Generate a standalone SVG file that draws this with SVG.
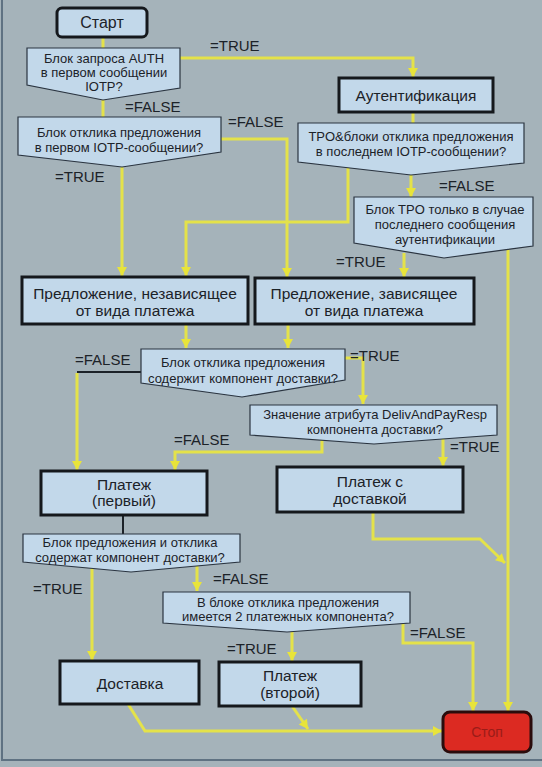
<svg xmlns="http://www.w3.org/2000/svg" width="542" height="767" viewBox="0 0 542 767">
<style>
text{font-family:"Liberation Sans",Arial,sans-serif;fill:#1c2228}
.box{fill:#c2d8ea;stroke:#15181c;stroke-width:3}
.dec{fill:#c2d8ea;stroke:#2a3440;stroke-width:1.2}
.bt{font-size:15.5px;text-anchor:middle}
.dt{font-size:13px;text-anchor:middle}
.lb{font-size:15px}
.c{fill:none;stroke:#e4e24a;stroke-width:3}
.ca{fill:none;stroke:#e4e24a;stroke-width:3;marker-end:url(#ah)}
.cd{fill:none;stroke:#1c2228;stroke-width:2}
</style>
<defs>
<marker id="ah" markerUnits="userSpaceOnUse" markerWidth="12" markerHeight="12" viewBox="0 0 12 12" refX="10" refY="6" orient="auto">
<path d="M1,1 L10,6 L1,11 Z" fill="#e8e43a"/>
</marker>
</defs>
<rect x="0" y="0" width="542" height="767" fill="#a5b3ba"/>
<line x1="2" y1="0" x2="2" y2="761" stroke="#5f7282" stroke-width="2"/>
<line x1="2" y1="760" x2="542" y2="760" stroke="#5f7282" stroke-width="2"/>

<g id="connectors">
<path class="c" d="M103,37 V48"/>
<path class="ca" d="M180,58 H413 V77"/>
<path class="c" d="M103,100 V117"/>
<path class="ca" d="M122,167 V276"/>
<path class="ca" d="M221,139 H287 V277"/>
<path class="c" d="M413,112 V123"/>
<path class="ca" d="M348,168 V222 H186 V276"/>
<path class="ca" d="M411,175 V197"/>
<path class="ca" d="M404,253 V277"/>
<path class="ca" d="M508,247 V711"/>
<path class="ca" d="M186,324 V348"/>
<path class="ca" d="M288,324 V348"/>
<path class="cd" d="M141,372 H77"/>
<path class="ca" d="M77,373 V470"/>
<path class="ca" d="M345,358 H363 V404"/>
<path class="ca" d="M322,440 V452 H175 V470"/>
<path class="ca" d="M443,437 V466"/>
<path class="cd" d="M123,515 V534"/>
<path class="ca" d="M373,512 V539 H480 L505,563"/>
<path class="ca" d="M92,568 V660"/>
<path class="ca" d="M197,564 V591"/>
<path class="ca" d="M292,632 V661"/>
<path class="ca" d="M403,623 V643 H473 V711"/>
<path class="ca" d="M128,704 L145,731 H442"/>
<path class="ca" d="M292,706 L308,729"/>
</g>

<g id="start">
<rect x="57" y="8" width="90" height="29" rx="5" class="box"/>
<text x="102" y="28" class="bt" style="font-size:16px">Старт</text>
</g>
<g id="d1">
<polygon points="27,48 180,48 180,88 103,100 27,85" class="dec"/>
<text x="104" y="63" class="dt">Блок запроса AUTH</text>
<text x="104" y="77" class="dt">в первом сообщении</text>
<text x="104" y="91" class="dt">IOTP?</text>
</g>
<g id="d2">
<polygon points="18,117 221,117 221,152 122,167 18,155" class="dec"/>
<text x="119" y="137" class="dt">Блок отклика предложения</text>
<text x="119" y="152" class="dt">в первом IOTP-сообщении?</text>
</g>
<g id="auth">
<rect x="339" y="78" width="154" height="34" class="box"/>
<text x="416" y="101" class="bt">Аутентификация</text>
</g>
<g id="d3">
<polygon points="298,123 524,123 524,163 411,175 298,162" class="dec"/>
<text x="411" y="141" class="dt">TPO&amp;блоки отклика предложения</text>
<text x="411" y="156" class="dt">в последнем IOTP-сообщении?</text>
</g>
<g id="d4">
<polygon points="354,197 533,197 533,246 444,258 354,243" class="dec"/>
<text x="445" y="214" class="dt">Блок TPO только в случае</text>
<text x="445" y="229" class="dt">последнего сообщения</text>
<text x="445" y="244" class="dt">аутентификации</text>
</g>
<g id="offer-indep">
<rect x="22" y="277" width="226" height="47" class="box"/>
<text x="135" y="299" class="bt">Предложение, независящее</text>
<text x="135" y="316" class="bt">от вида платежа</text>
</g>
<g id="offer-dep">
<rect x="255" y="278" width="219" height="46" class="box"/>
<text x="364" y="299" class="bt">Предложение, зависящее</text>
<text x="364" y="316" class="bt">от вида платежа</text>
</g>
<g id="d5">
<polygon points="141,349 345,349 345,380 242,397 141,383" class="dec"/>
<text x="243" y="367" class="dt">Блок отклика предложения</text>
<text x="243" y="383" class="dt">содержит компонент доставки?</text>
</g>
<g id="d6">
<polygon points="250,405 497,405 497,435 374,444 250,435" class="dec"/>
<text x="375" y="419" class="dt">Значение атрибута DelivAndPayResp</text>
<text x="375" y="434" class="dt">компонента доставки?</text>
</g>
<g id="pay1">
<rect x="41" y="471" width="166" height="44" class="box"/>
<text x="124" y="490" class="bt">Платеж</text>
<text x="124" y="506" class="bt">(первый)</text>
</g>
<g id="pay-deliv">
<rect x="277" y="467" width="186" height="45" class="box"/>
<text x="370" y="487" class="bt">Платеж с</text>
<text x="370" y="504" class="bt">доставкой</text>
</g>
<g id="d7">
<polygon points="23,534 240,534 240,562 131,572 23,562" class="dec"/>
<text x="130" y="547" class="dt">Блок предложения и отклика</text>
<text x="130" y="562" class="dt">содержат компонент доставки?</text>
</g>
<g id="d8">
<polygon points="163,592 410,592 410,623 287,632 163,623" class="dec"/>
<text x="288" y="607" class="dt">В блоке отклика предложения</text>
<text x="288" y="621" class="dt">имеется 2 платежных компонента?</text>
</g>
<g id="delivery">
<rect x="60" y="661" width="139" height="43" class="box"/>
<text x="130" y="689" class="bt">Доставка</text>
</g>
<g id="pay2">
<rect x="219" y="662" width="142" height="44" class="box"/>
<text x="290" y="681" class="bt">Платеж</text>
<text x="290" y="698" class="bt">(второй)</text>
</g>
<g id="stop">
<rect x="443" y="712" width="88" height="40" rx="7" fill="#dc2a22" stroke="#2a0c0c" stroke-width="3"/>
<text x="487" y="737" class="bt" style="font-size:14px;fill:#9a1c18">Стоп</text>
</g>

<g id="labels">
<text x="210" y="51" class="lb">=TRUE</text>
<text x="125" y="112" class="lb">=FALSE</text>
<text x="228" y="127" class="lb">=FALSE</text>
<text x="55" y="182" class="lb">=TRUE</text>
<text x="439" y="191" class="lb">=FALSE</text>
<text x="336" y="267" class="lb">=TRUE</text>
<text x="75" y="365" class="lb">=FALSE</text>
<text x="350" y="361" class="lb">=TRUE</text>
<text x="174" y="445" class="lb">=FALSE</text>
<text x="450" y="452" class="lb">=TRUE</text>
<text x="33" y="594" class="lb">=TRUE</text>
<text x="213" y="584" class="lb">=FALSE</text>
<text x="227" y="654" class="lb">=TRUE</text>
<text x="410" y="638" class="lb">=FALSE</text>
</g>
</svg>
